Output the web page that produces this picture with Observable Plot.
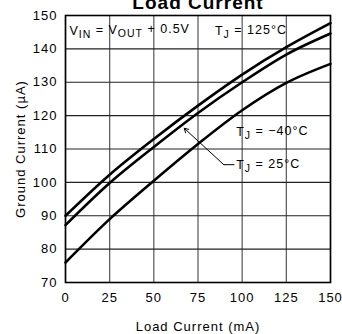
<!DOCTYPE html>
<html>
<head>
<meta charset="utf-8">
<script src="https://cdn.jsdelivr.net/npm/d3@7"></script>
<script src="https://cdn.jsdelivr.net/npm/@observablehq/plot@0.6"></script>
<style>
  html, body { margin: 0; padding: 0; background: #fff; }
  #chart { width: 342px; height: 334px; overflow: hidden; }
</style>
</head>
<body>
<div id="chart"></div>
<script>
// Load current (mA)
const loadCurrent = [0, 25, 50, 75, 100, 125, 150];
// Ground current (µA) per junction temperature
const gnd125 = [90, 102.3, 113, 123, 132.3, 140.5, 147.7];
const gnd25 = [87.2, 99.8, 110.6, 120.8, 130, 138.3, 144.6];
const gndM40 = [76, 89, 100.5, 111.5, 121.6, 129.8, 135.5];
const seriesNames = ["T_{J} = 125°C", "T_{J} = 25°C", "T_{J} = −40°C"];
const xTicks = [0, 25, 50, 75, 100, 125, 150];
const yTicks = [70, 80, 90, 100, 110, 120, 130, 140, 150];
const title = "Load Current";
const condition = "V_{IN} = V_{OUT} + 0.5V";

const rows = [];
[gnd125, gnd25, gndM40].forEach((arr, k) => {
  arr.forEach((v, i) => rows.push({series: seriesNames[k], x: loadCurrent[i], y: v}));
});

const annoStyle = {textAnchor: "start", fill: "#000", fontSize: 12.5};

const plot = Plot.plot({
  width: 342,
  height: 334,
  marginLeft: 65,
  marginRight: 12,
  marginTop: 15,
  marginBottom: 52,
  style: {fontFamily: "'Liberation Sans', Arial, sans-serif", fontSize: "13px", letterSpacing: "1px", background: "#fff", overflow: "visible"},
  x: {domain: [0, 150], ticks: xTicks, tickSize: 0, tickPadding: 10, tickFormat: d => String(d),
      label: "Load Current (mA)", labelAnchor: "center", labelOffset: 48, labelArrow: false},
  y: {domain: [70, 150], ticks: yTicks, tickSize: 0, tickPadding: 8, tickFormat: d => String(d),
      label: "Ground Current (µA)", labelAnchor: "center", labelOffset: 50, labelArrow: false},
  marks: [
    Plot.ruleX(xTicks, {stroke: "#555", strokeWidth: 1.2}),
    Plot.ruleY(yTicks, {stroke: "#222", strokeWidth: 1.2}),
    Plot.frame({stroke: "#000", strokeWidth: 1.6}),
    Plot.line(rows, {x: "x", y: "y", z: "series", stroke: "#000", strokeWidth: 2.6, curve: "monotone-x"}),
    // labels
    Plot.text([condition], {x: 2.2, y: 145.5, text: d => d, ...annoStyle}),
    Plot.text([seriesNames[0]], {x: 84.6, y: 145.5, text: d => d, ...annoStyle}),
    Plot.text([seriesNames[2]], {x: 96.6, y: 115.2, text: d => d, ...annoStyle}),
    Plot.text([seriesNames[1]], {x: 96.6, y: 105.3, text: d => d, ...annoStyle}),
    Plot.link([{x1: 95.6, y1: 105.3, x2: 89.6, y2: 105.3}], {x1: "x1", y1: "y1", x2: "x2", y2: "y2", stroke: "#000", strokeWidth: 1}),
    Plot.arrow([{x1: 89.6, y1: 105.3, x2: 67.2, y2: 116.2}], {x1: "x1", y1: "y1", x2: "x2", y2: "y2", stroke: "#000", strokeWidth: 1, headLength: 7}),
    Plot.text([title], {frameAnchor: "top", dy: -7, lineAnchor: "bottom", fontSize: 19, fontWeight: "bold", fill: "#000"})
  ]
});

// Render subscripts written as _{...}
d3.select(plot).selectAll("text").each(function() {
  const t = this.textContent;
  if (!t.includes("_{")) return;
  const sel = d3.select(this);
  sel.text(null);
  const parts = t.split(/(_\{[^}]*\})/).filter(p => p.length);
  let shifted = false;
  parts.forEach(p => {
    if (p.startsWith("_{")) {
      sel.append("tspan").attr("dy", "0.3em").attr("font-size", "10.5px").text(p.slice(2, -1));
      shifted = true;
    } else {
      const ts = sel.append("tspan").text(p);
      if (shifted) { ts.attr("dy", "-0.3em"); shifted = false; }
    }
  });
});

document.getElementById("chart").appendChild(plot);
</script>
</body>
</html>
